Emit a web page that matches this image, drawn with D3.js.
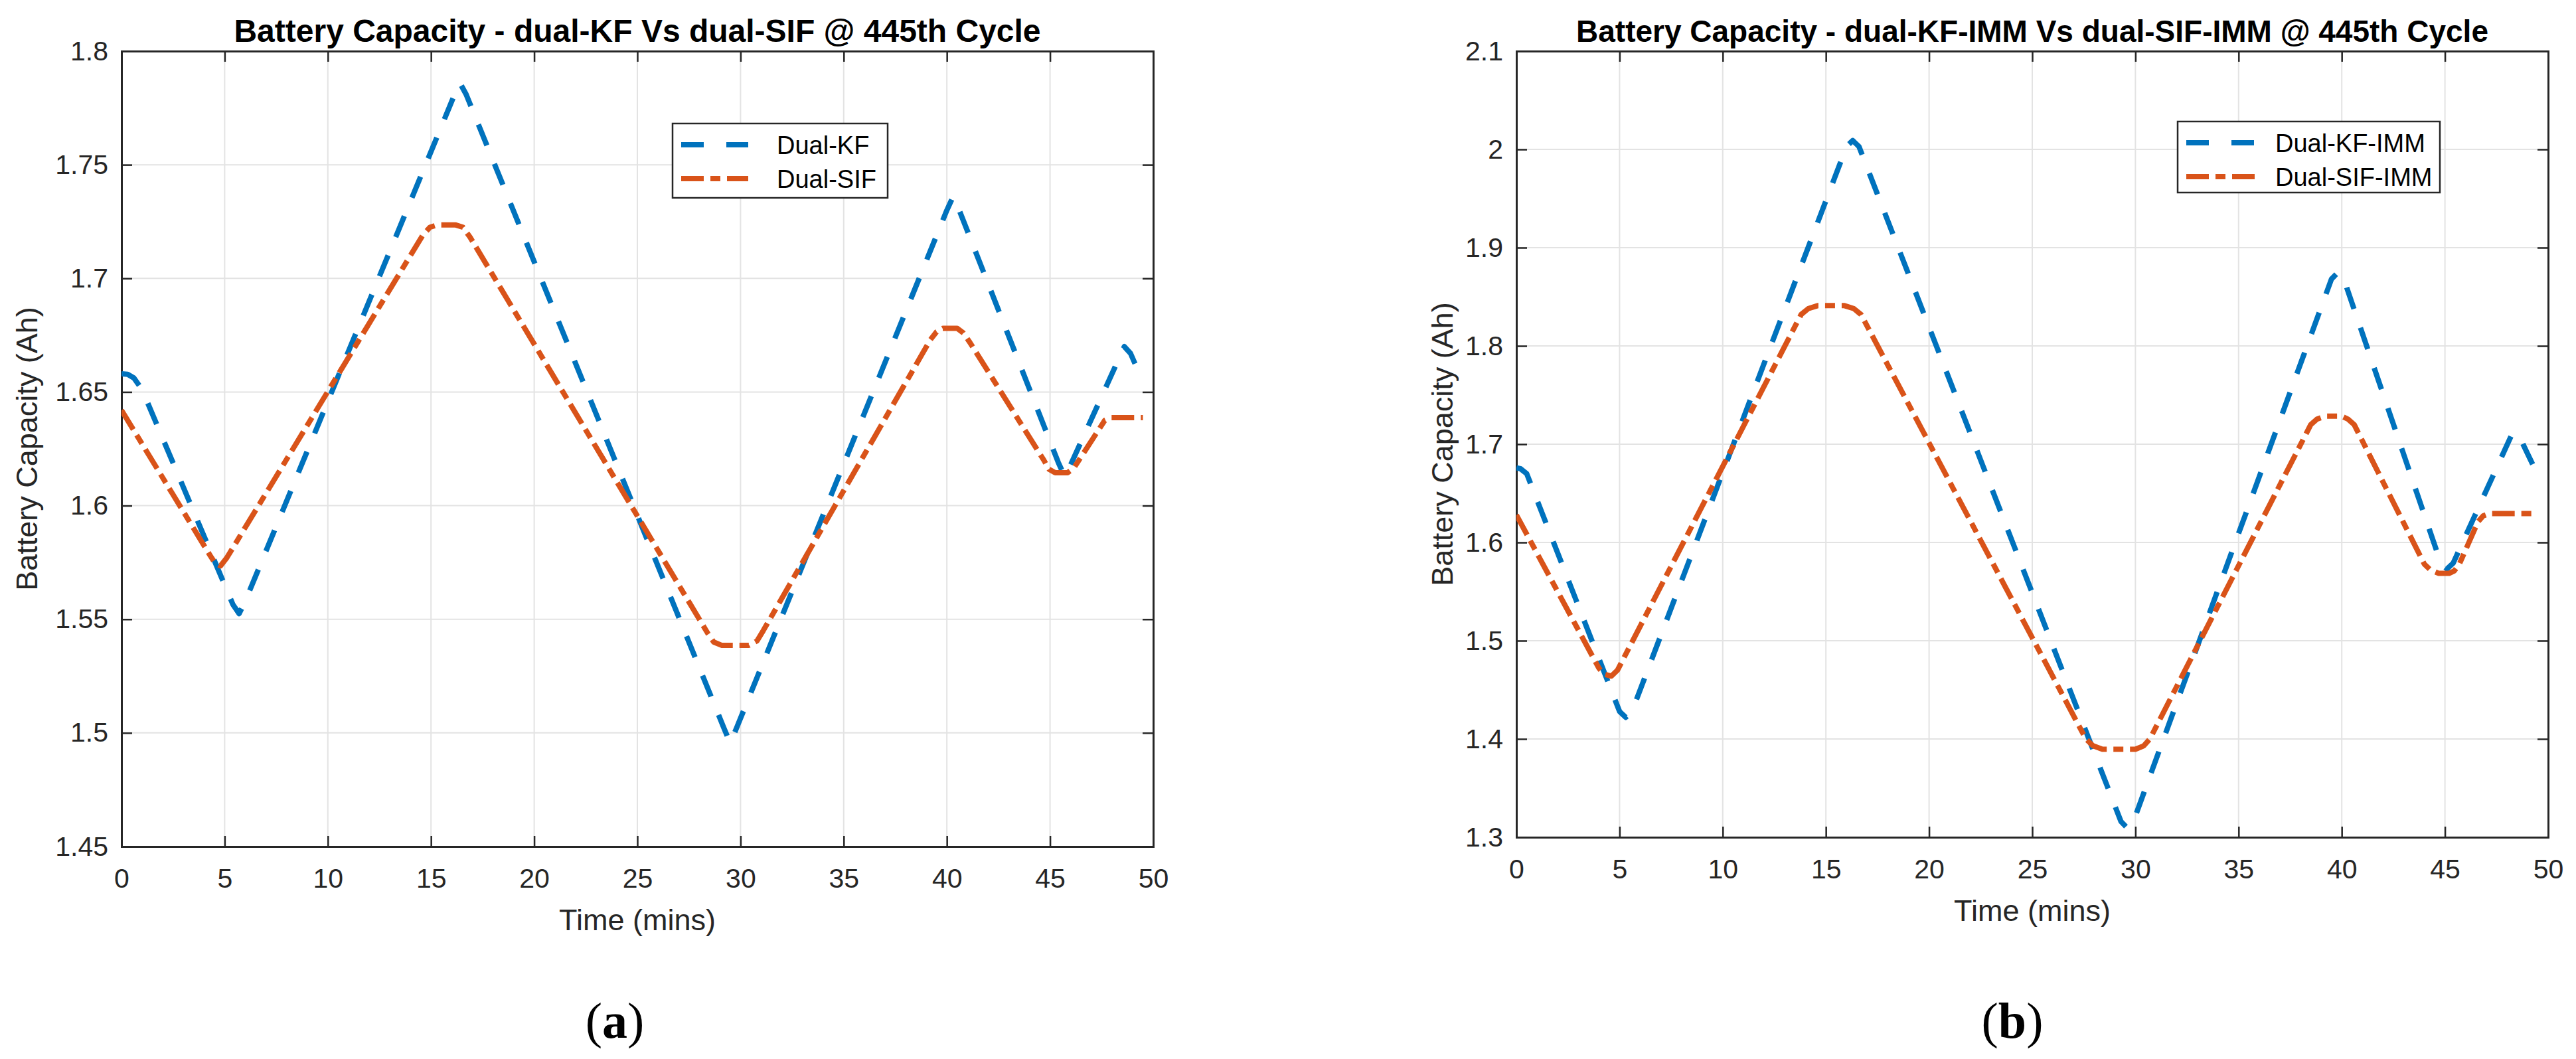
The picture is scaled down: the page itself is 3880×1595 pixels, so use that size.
<!DOCTYPE html>
<html>
<head>
<meta charset="utf-8">
<script src="https://cdn.jsdelivr.net/npm/d3@7"></script>
<style>
  html, body { margin: 0; padding: 0; background: #fff; }
  svg { display: block; }
  .tick text { font-family: "Liberation Sans", Arial, sans-serif; fill: #262626; }
</style>
</head>
<body>
<svg id="chart" width="3880" height="1595"></svg>
<script>
// ---- data ----
const xTicks = [0, 5, 10, 15, 20, 25, 30, 35, 40, 45, 50];

// panel (a)
const yTicksA = [1.45, 1.5, 1.55, 1.6, 1.65, 1.7, 1.75, 1.8];
const kfTimeA = [0, 0.3, 0.6, 1.0, 5.4, 5.7, 6.0, 16.1, 16.4, 16.7, 29.2, 29.5, 29.8,
  40.0, 40.3, 40.6, 45.4, 45.7, 46.0, 48.4, 48.6, 48.9, 49.5];
const kfCapA = [1.658, 1.6578, 1.6562, 1.651, 1.5565, 1.5525, 1.558, 1.780, 1.786, 1.781, 1.502, 1.4955, 1.502,
  1.730, 1.736, 1.730, 1.619, 1.613, 1.618, 1.666, 1.670, 1.667, 1.6545];
const sifTimeA = [0, 4.3, 4.55, 4.8, 5.1, 14.6, 14.95, 15.3, 16.2, 16.55, 16.9, 28.4, 28.7, 29.1, 30.4, 30.8, 31.1,
  39.2, 39.5, 39.8, 40.5, 40.8, 41.1, 44.7, 44.95, 45.25, 45.85, 46.15, 46.4, 47.4, 47.65, 47.95, 49.5];
const sifCapA = [1.642, 1.578, 1.5745, 1.5735, 1.577, 1.719, 1.7225, 1.7235, 1.7235, 1.7225, 1.718, 1.544, 1.540, 1.5385, 1.5385, 1.5405, 1.545,
  1.673, 1.6765, 1.678, 1.678, 1.676, 1.672, 1.620, 1.616, 1.6145, 1.6145, 1.6165, 1.620, 1.634, 1.6375, 1.6387, 1.6387];

// panel (b)
const yTicksB = [1.3, 1.4, 1.5, 1.6, 1.7, 1.8, 1.9, 2.0, 2.1];
const kfTimeB = [0, 0.2, 0.5, 5.0, 5.3, 5.6, 16.0, 16.3, 16.6, 29.3, 29.6, 29.9,
  39.5, 39.8, 40.1, 44.8, 45.1, 45.4, 48.2, 48.4, 48.6, 49.4];
const kfCapB = [1.676, 1.675, 1.670, 1.428, 1.422, 1.428, 2.003, 2.009, 2.003, 1.316, 1.3095, 1.316,
  1.868, 1.8745, 1.868, 1.579, 1.573, 1.579, 1.708, 1.712, 1.708, 1.673];
const sifTimeB = [0, 4.0, 4.25, 4.6, 4.9, 13.8, 14.15, 14.6, 15.9, 16.35, 16.7, 27.6, 27.95, 28.4, 30.0, 30.4, 30.7,
  38.5, 38.8, 39.2, 40.0, 40.3, 40.6, 44.0, 44.3, 44.7, 45.2, 45.45, 45.7, 46.6, 46.85, 47.15, 49.4];
const sifCapB = [1.628, 1.472, 1.466, 1.464, 1.470, 1.832, 1.838, 1.841, 1.841, 1.838, 1.832, 1.400, 1.393, 1.3895, 1.3895, 1.393, 1.400,
  1.720, 1.7255, 1.7285, 1.7285, 1.7255, 1.720, 1.578, 1.572, 1.5685, 1.5685, 1.571, 1.578, 1.621, 1.627, 1.6294, 1.6294];

const BLUE = '#0072BD';
const ORANGE = '#D95319';
const AXIS = '#262626';
const FONT = '"Liberation Sans", Arial, sans-serif';

const svg = d3.select('#chart');
svg.append('rect').attr('width', 3880).attr('height', 1595).attr('fill', '#fff');

function zip(ts, vs) {
  return ts.map((t, i) => ({ t, v: vs[i] }));
}

function drawPanel(cfg) {
  const x = d3.scaleLinear().domain([0, 50]).range([cfg.left, cfg.right]);
  const y = d3.scaleLinear().domain(cfg.yDomain).range([cfg.bottom, cfg.top]);
  const g = svg.append('g');

  // grid
  g.append('g').selectAll('line.gx').data(xTicks).join('line')
    .attr('x1', d => x(d)).attr('x2', d => x(d))
    .attr('y1', cfg.top).attr('y2', cfg.bottom)
    .attr('stroke', '#e3e3e3').attr('stroke-width', 2);
  g.append('g').selectAll('line.gy').data(cfg.yTicks).join('line')
    .attr('x1', cfg.left).attr('x2', cfg.right)
    .attr('y1', d => y(d)).attr('y2', d => y(d))
    .attr('stroke', '#e3e3e3').attr('stroke-width', 2);

  // axes (ticks point inward like MATLAB)
  const fmt = d => String(+d.toFixed(2));
  const axes = [
    [d3.axisBottom(x).tickValues(xTicks).tickSize(-16).tickPadding(33).tickFormat(fmt), `translate(0,${cfg.bottom})`],
    [d3.axisTop(x).tickValues(xTicks).tickSize(-16).tickFormat(''), `translate(0,${cfg.top})`],
    [d3.axisLeft(y).tickValues(cfg.yTicks).tickSize(-16).tickPadding(20).tickFormat(fmt), `translate(${cfg.left},0)`],
    [d3.axisRight(y).tickValues(cfg.yTicks).tickSize(-16).tickFormat(''), `translate(${cfg.right},0)`]
  ];
  axes.forEach(([axis, tr]) => {
    const a = g.append('g').attr('transform', tr).call(axis);
    a.select('.domain').attr('stroke', AXIS).attr('stroke-width', 3);
    a.selectAll('.tick line').attr('stroke', AXIS).attr('stroke-width', 2.5);
    a.selectAll('.tick text').attr('font-size', 41).attr('font-family', FONT).attr('fill', AXIS);
  });

  // series
  const clipId = 'clip' + cfg.id;
  svg.append('clipPath').attr('id', clipId).append('rect')
    .attr('x', cfg.left).attr('y', cfg.top - 10)
    .attr('width', cfg.right - cfg.left).attr('height', cfg.bottom - cfg.top + 10);

  const line = d3.line().x(d => x(d.t)).y(d => y(d.v)).curve(d3.curveLinear);
  const lines = g.append('g').attr('clip-path', `url(#${clipId})`);
  lines.append('path').datum(zip(cfg.kfTime, cfg.kfCap))
    .attr('d', line).attr('fill', 'none').attr('stroke', BLUE)
    .attr('stroke-width', 8).attr('stroke-linejoin', 'round')
    .attr('stroke-dasharray', '34,30');
  lines.append('path').datum(zip(cfg.sifTime, cfg.sifCap))
    .attr('d', line).attr('fill', 'none').attr('stroke', ORANGE)
    .attr('stroke-width', 8).attr('stroke-linejoin', 'round')
    .attr('stroke-dasharray', '34,10,15,10');

  // title and labels
  g.append('text')
    .attr('x', (cfg.left + cfg.right) / 2).attr('y', 63)
    .attr('text-anchor', 'middle').attr('font-family', FONT)
    .attr('font-weight', 'bold').attr('font-size', cfg.titleSize).attr('fill', '#000')
    .text(cfg.title);
  g.append('text')
    .attr('x', (cfg.left + cfg.right) / 2).attr('y', cfg.bottom + 126)
    .attr('text-anchor', 'middle').attr('font-family', FONT)
    .attr('font-size', 45).attr('fill', AXIS)
    .text('Time (mins)');
  g.append('text')
    .attr('transform', `translate(${cfg.yLabelX},${(cfg.top + cfg.bottom) / 2}) rotate(-90)`)
    .attr('text-anchor', 'middle').attr('font-family', FONT)
    .attr('font-size', 45).attr('fill', AXIS)
    .text('Battery Capacity (Ah)');

  // legend
  const L = cfg.legend;
  const lg = g.append('g');
  lg.append('rect')
    .attr('x', L.x).attr('y', L.y).attr('width', L.w).attr('height', L.h)
    .attr('fill', '#fff').attr('stroke', AXIS).attr('stroke-width', 2.5);
  const entries = [
    { name: cfg.names[0], color: BLUE, dash: '34,34' },
    { name: cfg.names[1], color: ORANGE, dash: '34,10,15,10' }
  ];
  entries.forEach((e, i) => {
    const cy = L.y + 32 + i * 51;
    lg.append('line')
      .attr('x1', L.x + 13).attr('x2', L.x + 13 + L.sample)
      .attr('y1', cy).attr('y2', cy)
      .attr('stroke', e.color).attr('stroke-width', 8).attr('stroke-dasharray', e.dash);
    lg.append('text')
      .attr('x', L.textX).attr('y', cy + 14)
      .attr('font-family', FONT).attr('font-size', 38).attr('fill', '#000')
      .text(e.name);
  });

  // sub-figure label
  const sub = svg.append('text')
    .attr('x', cfg.subX).attr('y', 1563)
    .attr('text-anchor', 'middle')
    .attr('font-family', '"Liberation Serif", "Times New Roman", serif')
    .attr('font-size', 76).attr('fill', '#000');
  sub.append('tspan').text('(');
  sub.append('tspan').attr('font-weight', 'bold').text(cfg.subLetter);
  sub.append('tspan').text(')');
}

drawPanel({
  id: 'a', left: 183, right: 1737, top: 77, bottom: 1275,
  yDomain: [1.45, 1.8], yTicks: yTicksA,
  kfTime: kfTimeA, kfCap: kfCapA, sifTime: sifTimeA, sifCap: sifCapA,
  title: 'Battery Capacity - dual-KF Vs dual-SIF @ 445th Cycle', titleSize: 48,
  yLabelX: 56,
  names: ['Dual-KF', 'Dual-SIF'],
  legend: { x: 1013, y: 186, w: 324, h: 112, sample: 101, textX: 1170 },
  subX: 926, subLetter: 'a'
});

drawPanel({
  id: 'b', left: 2284, right: 3838, top: 77, bottom: 1261,
  yDomain: [1.3, 2.1], yTicks: yTicksB,
  kfTime: kfTimeB, kfCap: kfCapB, sifTime: sifTimeB, sifCap: sifCapB,
  title: 'Battery Capacity - dual-KF-IMM Vs dual-SIF-IMM @ 445th Cycle', titleSize: 46,
  yLabelX: 2188,
  names: ['Dual-KF-IMM', 'Dual-SIF-IMM'],
  legend: { x: 3280, y: 183, w: 395, h: 107, sample: 110, textX: 3427 },
  subX: 3031, subLetter: 'b'
});
</script>
</body>
</html>
